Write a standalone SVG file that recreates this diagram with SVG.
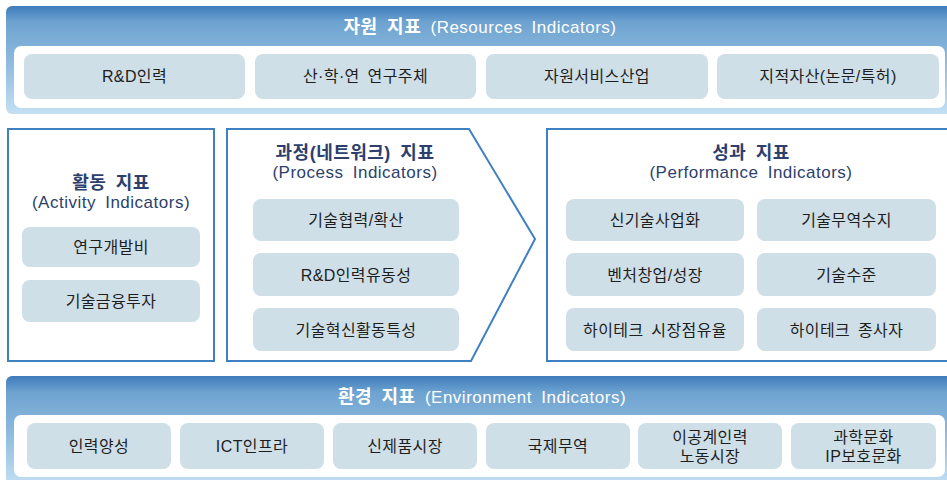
<svg xmlns="http://www.w3.org/2000/svg" width="947" height="480" viewBox="0 0 947 480">
  <defs>
    <linearGradient id="bandFill" x1="0" y1="0" x2="0" y2="1">
      <stop offset="0" stop-color="#3f7cbb"/>
      <stop offset="0.15" stop-color="#6ea3d0"/>
      <stop offset="0.5" stop-color="#8cb9dd"/>
      <stop offset="1" stop-color="#c4e0f3"/>
    </linearGradient>
  </defs>
  <style>
    .band { fill: url(#bandFill); }
    .panel { fill: #ffffff; }
    .item { fill: #cfdfe8; }
    .frame { fill: #ffffff; stroke: #3f80c2; stroke-width: 2; }
    .label { font-family: "Liberation Sans", "Noto Sans CJK KR", sans-serif; font-size: 16px; letter-spacing: 0.4px; word-spacing: 3px; fill: #1e1e1e; text-anchor: middle; }
    .band-title { font-family: "Liberation Sans", "Noto Sans CJK KR", sans-serif; font-size: 17px; letter-spacing: 0.5px; word-spacing: 4px; fill: #ffffff; text-anchor: middle; }
    .ko { font-weight: bold; font-size: 18px; }
    .head { font-family: "Liberation Sans", "Noto Sans CJK KR", sans-serif; fill: #2d3f6d; text-anchor: middle; letter-spacing: 0.5px; word-spacing: 4px; }
    .head-ko { font-size: 18px; font-weight: bold; }
    .head-en { font-size: 17px; }
  </style>

  <!-- Resources band -->
  <g id="resources">
    <rect class="band" x="6" y="6" width="946" height="108" rx="6"/>
    <text class="band-title" x="480" y="33"><tspan class="ko">자원 지표</tspan> (Resources Indicators)</text>
    <rect class="panel" x="14" y="46" width="931" height="62" rx="7"/>
    <g id="res-1"><rect class="item" x="24" y="54" width="221" height="45" rx="8"/><text class="label" x="134.5" y="82">R&amp;D인력</text></g>
    <g id="res-2"><rect class="item" x="255" y="54" width="221" height="45" rx="8"/><text class="label" x="365.5" y="82">산·학·연 연구주체</text></g>
    <g id="res-3"><rect class="item" x="486" y="54" width="222" height="45" rx="8"/><text class="label" x="597" y="82">자원서비스산업</text></g>
    <g id="res-4"><rect class="item" x="717" y="54" width="222" height="45" rx="8"/><text class="label" x="828" y="82">지적자산(논문/특허)</text></g>
  </g>

  <!-- Activity indicators -->
  <g id="activity">
    <rect class="frame" x="8" y="129" width="206" height="232"/>
    <text class="head head-ko" x="111" y="189">활동 지표</text>
    <text class="head head-en" x="111" y="208">(Activity Indicators)</text>
    <g id="act-1"><rect class="item" x="22" y="227" width="178" height="40" rx="8"/><text class="label" x="111" y="253">연구개발비</text></g>
    <g id="act-2"><rect class="item" x="22" y="280" width="178" height="42" rx="8"/><text class="label" x="111" y="307">기술금융투자</text></g>
  </g>

  <!-- Process (network) indicators -->
  <g id="process">
    <polygon class="frame" points="227,129 469,129 535,239 471,361 227,361"/>
    <text class="head head-ko" x="355" y="159">과정(네트워크) 지표</text>
    <text class="head head-en" x="355" y="178">(Process Indicators)</text>
    <g id="proc-1"><rect class="item" x="253" y="199" width="206" height="42" rx="8"/><text class="label" x="356" y="226">기술협력/확산</text></g>
    <g id="proc-2"><rect class="item" x="253" y="253" width="206" height="43" rx="8"/><text class="label" x="356" y="281">R&amp;D인력유동성</text></g>
    <g id="proc-3"><rect class="item" x="253" y="308" width="206" height="43" rx="8"/><text class="label" x="356" y="336">기술혁신활동특성</text></g>
  </g>

  <!-- Performance indicators -->
  <g id="performance">
    <rect class="frame" x="547" y="129" width="410" height="232"/>
    <text class="head head-ko" x="751" y="159">성과 지표</text>
    <text class="head head-en" x="751" y="178">(Performance Indicators)</text>
    <g id="perf-1"><rect class="item" x="566" y="199" width="178" height="42" rx="8"/><text class="label" x="655" y="226">신기술사업화</text></g>
    <g id="perf-2"><rect class="item" x="757" y="199" width="179" height="42" rx="8"/><text class="label" x="846.5" y="226">기술무역수지</text></g>
    <g id="perf-3"><rect class="item" x="566" y="253" width="178" height="43" rx="8"/><text class="label" x="655" y="281">벤처창업/성장</text></g>
    <g id="perf-4"><rect class="item" x="757" y="253" width="179" height="43" rx="8"/><text class="label" x="846.5" y="281">기술수준</text></g>
    <g id="perf-5"><rect class="item" x="566" y="308" width="178" height="43" rx="8"/><text class="label" x="655" y="336">하이테크 시장점유율</text></g>
    <g id="perf-6"><rect class="item" x="757" y="308" width="179" height="43" rx="8"/><text class="label" x="846.5" y="336">하이테크 종사자</text></g>
  </g>

  <!-- Environment band -->
  <g id="environment">
    <rect class="band" x="6" y="376" width="946" height="110" rx="6"/>
    <text class="band-title" x="482" y="403"><tspan class="ko">환경 지표</tspan> (Environment Indicators)</text>
    <rect class="panel" x="14" y="415" width="931" height="62" rx="7"/>
    <g id="env-1"><rect class="item" x="27" y="423" width="144" height="46" rx="8"/><text class="label" x="99" y="452">인력양성</text></g>
    <g id="env-2"><rect class="item" x="180" y="423" width="144" height="46" rx="8"/><text class="label" x="252" y="452">ICT인프라</text></g>
    <g id="env-3"><rect class="item" x="333" y="423" width="144" height="46" rx="8"/><text class="label" x="405" y="452">신제품시장</text></g>
    <g id="env-4"><rect class="item" x="486" y="423" width="144" height="46" rx="8"/><text class="label" x="558" y="452">국제무역</text></g>
    <g id="env-5"><rect class="item" x="638" y="423" width="144" height="46" rx="8"/><text class="label" x="710" y="443">이공계인력</text><text class="label" x="710" y="462">노동시장</text></g>
    <g id="env-6"><rect class="item" x="791" y="423" width="145" height="46" rx="8"/><text class="label" x="863.5" y="443">과학문화</text><text class="label" x="863.5" y="462">IP보호문화</text></g>
  </g>
</svg>
